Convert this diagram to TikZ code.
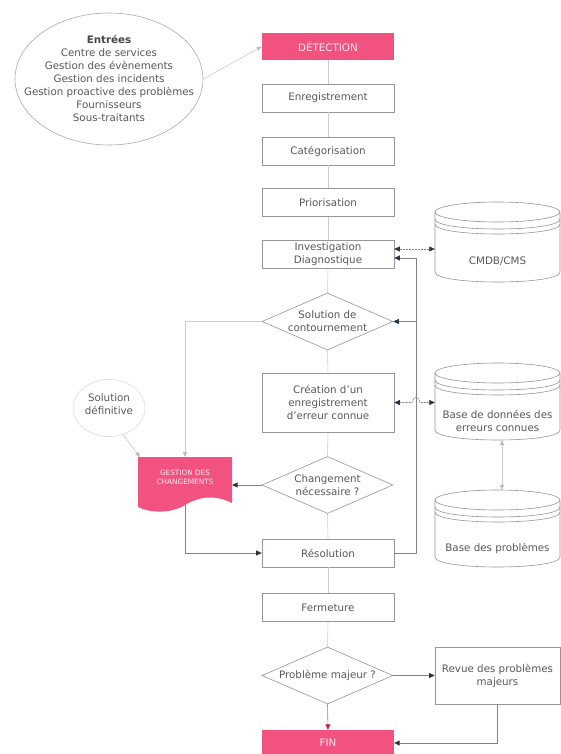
\documentclass[tikz,border=0pt]{standalone}
\usepackage{fontspec}
\setmainfont{DejaVu Sans}
\usetikzlibrary{shapes.geometric,arrows.meta,calc}
\definecolor{pinkc}{RGB}{242,82,128}
\definecolor{txtc}{RGB}{88,88,88}
\definecolor{bordc}{RGB}{150,150,150}
\definecolor{llinec}{RGB}{205,205,205}
\definecolor{dlinec}{RGB}{130,130,130}
\definecolor{tipc}{RGB}{45,52,65}
\definecolor{ltipc}{RGB}{185,185,185}
\definecolor{redc}{RGB}{200,30,85}
\newcommand{\dbcyl}[4]{%
  \fill[white] (#1,{#3+10}) -- (#1,{#4-10}) .. controls (#1,{#4+3.33}) and (#2,{#4+3.33}) .. (#2,{#4-10}) -- (#2,{#3+10}) .. controls (#2,{#3-3.33}) and (#1,{#3-3.33}) .. cycle;
  \draw[bordc,line width=0.6pt] ({(#1+#2)/2},{#3+10}) ellipse [x radius={(#2-#1)/2}, y radius=10];
  \draw[bordc,line width=0.6pt] (#1,{#3+17}) .. controls (#1,{#3+30.33}) and (#2,{#3+30.33}) .. (#2,{#3+17});
  \draw[bordc,line width=0.6pt] (#1,{#3+22}) .. controls (#1,{#3+35.33}) and (#2,{#3+35.33}) .. (#2,{#3+22});
  \draw[bordc,line width=0.6pt] (#1,{#3+10}) -- (#1,{#4-10}) .. controls (#1,{#4+3.33}) and (#2,{#4+3.33}) .. (#2,{#4-10}) -- (#2,{#3+10});
}
\begin{document}
\begin{tikzpicture}[x=1pt,y=-1pt,
  font=\fontsize{10.3}{13}\selectfont, text=txtc,
  box/.style={draw=bordc, line width=0.6pt, fill=white, minimum width=132pt, minimum height=28pt, inner sep=0pt, align=center},
  pinkbox/.style={fill=pinkc, draw=none, text=white!88!pinkc, minimum width=132pt, minimum height=27pt, inner sep=0pt},
  dia/.style={diamond, draw=bordc, line width=0.6pt, fill=white, minimum width=131pt, minimum height=57pt, inner sep=0pt},
  lbl/.style={align=center, inner sep=0pt},
  ghost/.style={draw=none, inner sep=0pt},
  flow/.style={draw=llinec, line width=0.6pt},
  larr/.style={draw=llinec, line width=0.6pt, -{Triangle[length=5pt,width=4pt,color=ltipc]}},
  larr2/.style={draw=llinec, line width=0.6pt, {Triangle[length=5pt,width=4pt,color=ltipc]}-{Triangle[length=5pt,width=4pt,color=ltipc]}},
  darr/.style={draw=dlinec, line width=0.6pt, -{Triangle[length=5.5pt,width=5pt,color=tipc]}},
  dbarr/.style={draw=dlinec, line width=0.6pt, dash pattern=on 2pt off 1pt, {Triangle[length=5.5pt,width=5pt,color=tipc]}-{Triangle[length=5.5pt,width=5pt,color=tipc]}},
  pinkarr/.style={draw=redc!70!white, line width=0.6pt, -{Triangle[length=5.5pt,width=5pt,color=redc]}}
]
\fill[white] (0,0) rectangle (561,754);
\useasboundingbox (0,0) rectangle (561,754);

% Entrées ellipse
\node[ellipse, draw=bordc!80!white, line width=0.6pt, minimum width=188pt, minimum height=132pt, inner sep=0pt] (ent) at (109,79) {};
\node[lbl] (entt) at (109,78.5) {{\bfseries\color{txtc!80!black}Entrées}\\Centre de services\\Gestion des évènements\\Gestion des incidents\\Gestion proactive des problèmes\\Fournisseurs\\Sous-traitants};

% main column
\node[pinkbox] (det) at (328,46.5) {DÉTECTION};
\node[box] (enr) at (328,98) {Enregistrement};
\node[box] (cat) at (328,151) {Catégorisation};
\node[box] (pri) at (328,202.5) {Priorisation};
\node[box] (inv) at (328,254) {Investigation\\Diagnostique};
\node[dia] (sol) at (327.5,321.5) {};
\node[lbl] (solt) at (327.5,321.5) {Solution de\\contournement};
\node[box, minimum height=59pt] (cre) at (328,402.5) {Création d’un\\enregistrement\\d’erreur connue};
\node[dia] (chg) at (327.5,485) {};
\node[lbl] (chgt) at (327.5,485) {Changement\\nécessaire ?};
\node[box] (res) at (328,553) {Résolution};
\node[box] (fer) at (328,607.5) {Fermeture};
\node[dia] (pm) at (327.5,675.5) {};
\node[lbl] (pmt) at (327.5,675.5) {Problème majeur ?};
\node[pinkbox, minimum height=26pt] (fin) at (328,743) {FIN};
\node[box, minimum width=125pt, minimum height=57pt] (rev) at (497.5,675.5) {Revue des problèmes\\majeurs};

% databases
\dbcyl{435}{560}{202}{282}
\node[ghost, minimum width=125pt, minimum height=80pt] (cmdb) at (497.5,242) {};
\node[lbl] (cmdbt) at (497.5,261) {CMDB/CMS};
\dbcyl{435}{560}{363}{440}
\node[ghost, minimum width=125pt, minimum height=77pt] (bdd) at (497.5,401.5) {};
\node[lbl] (bddt) at (497.5,421) {Base de données des\\erreurs connues};
\dbcyl{435}{560}{490}{567}
\node[ghost, minimum width=125pt, minimum height=77pt] (bp) at (497.5,528.5) {};
\node[lbl] (bpt) at (497.5,548) {Base des problèmes};

% Solution définitive
\node[ellipse, draw=llinec!70!white, line width=0.6pt, minimum width=72pt, minimum height=57pt, inner sep=0pt] (sd) at (109,408) {};
\node[lbl] (sdt) at (109,404) {Solution\\définitive};

% Gestion des changements (document shape)
\coordinate (gtl) at (138,457);
\coordinate (gtr) at (232,457);
\coordinate (gtop) at (185,457);
\coordinate (gsd) at (140,457);
\coordinate (gbot) at (185,505);
\fill[pinkc] (gtl) -- (gtr) -- (232,503) .. controls (214,494) and (198,497) .. (185,505) .. controls (170,514) and (150,513) .. (138,507) -- cycle;
\node[lbl, font=\fontsize{7.3}{9}\selectfont, text=white!88!pinkc] (gestt) at (185,477.5) {GESTION DES\\CHANGEMENTS};

% main flow
\draw[flow] (det.south) -- (enr.north);
\draw[flow] (enr.south) -- (cat.north);
\draw[flow] (cat.south) -- (pri.north);
\draw[flow] (pri.south) -- (inv.north);
\draw[flow] (inv.south) -- (sol.north);
\draw[flow] (sol.south) -- (cre.north);
\draw[flow] (cre.south) -- (chg.north);
\draw[flow] (chg.south) -- (res.north);
\draw[flow] (res.south) -- (fer.north);
\draw[flow] (fer.south) -- (pm.north);
\draw[pinkarr] (pm.south) -- (fin.north);

% inputs
\draw[larr] (ent.east) -- (det.west);

% feedback bus
\coordinate (bus) at (416,0);
\coordinate (invin) at ($(inv.east)+(0,4)$);
\coordinate (invout) at ($(inv.east)+(0,-5)$);
\draw[darr] (res.east) -- (res.east -| bus) -- (bus |- invin) -- (invin);
\draw[darr] (bus |- sol.east) -- (sol.east);

% database links
\draw[dbarr] (invout) -- (invout -| cmdb.west);
\draw[dbarr] (cre.east) -- ($(cre.east -| bus)+(-4,0)$) .. controls +(1.5,-7) and +(-1.5,-7) .. ($(cre.east -| bus)+(4,0)$) -- (cre.east -| bdd.west);
\draw[larr2] ($(bdd.south)+(4.5,0)$) -- ($(bp.north)+(4.5,0)$);

% left side
\draw[larr] (sol.west) -| (gtop);
\draw[larr] (sd.-62) -- (gsd);
\draw[darr] (chg.west) -- (chg.west -| gtr);
\draw[darr] (gbot) |- (res.west);

% bottom
\draw[darr] (pm.east) -- (rev.west);
\draw[darr] (rev.south) |- (fin.east);
\end{tikzpicture}
\end{document}
